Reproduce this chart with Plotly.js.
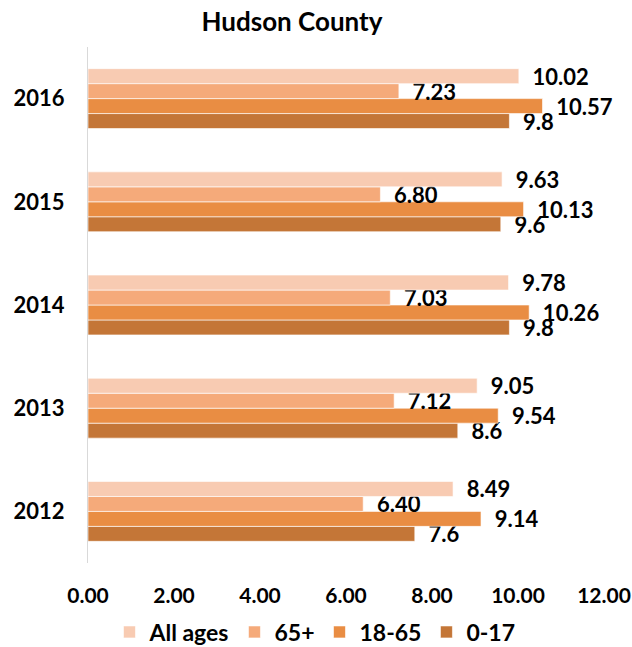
<!DOCTYPE html>
<html>
<head>
<meta charset="utf-8">
<script src="https://cdn.plot.ly/plotly-3.0.1.min.js"></script>
<style>html,body{margin:0;padding:0;background:#fff;}#chart{width:632px;height:647px;}</style>
</head>
<body>
<div id="chart"></div>
<script>
const years = ["2012", "2013", "2014", "2015", "2016"];
const allAges = [8.49, 9.05, 9.78, 9.63, 10.02];
const age65plus = [6.40, 7.12, 7.03, 6.80, 7.23];
const age18to65 = [9.14, 9.54, 10.26, 10.13, 10.57];
const age0to17 = [7.6, 8.6, 9.8, 9.6, 9.8];
const xTicks = [0, 2, 4, 6, 8, 10, 12];

const FONT = "Lato, 'Open Sans', sans-serif";
const labelFont = {family: FONT, size: 22, color: "#000", weight: 700};
const PAD = "\u00a0\u00a0";

function series(name, vals, color, tmpl) {
  return {
    type: "bar", orientation: "h", name: name,
    y: years, x: vals,
    marker: {color: color, line: {color: "rgba(255,255,255,0.6)", width: 1}},
    texttemplate: PAD + tmpl, textposition: "outside", cliponaxis: false,
    constraintext: "none", textfont: labelFont,
    hoverinfo: "x+name"
  };
}

const data = [
  series("0-17", age0to17, "#C47637", "%{x:.1f}"),
  series("18-65", age18to65, "#E98D43", "%{x:.2f}"),
  series("65+", age65plus, "#F5AA7A", "%{x:.2f}"),
  series("All ages", allAges, "#F8CBB2", "%{x:.2f}")
];

const layout = {
  width: 632, height: 647,
  margin: {l: 88, r: 28, t: 47, b: 84, autoexpand: false},
  paper_bgcolor: "#fff", plot_bgcolor: "#fff",
  font: {family: FONT, color: "#000"},
  title: {text: "Hudson County", x: 292/632, xanchor: "center", xref: "container",
          y: 1 - 22/647, yanchor: "middle", yref: "container",
          font: {family: FONT, size: 26, weight: 700, color: "#000"}},
  barmode: "group", bargap: 0.42, bargroupgap: 0,
  xaxis: {range: [0, 12], tickvals: xTicks, tickformat: ".2f",
          showgrid: false, zeroline: false, showline: false,
          ticks: "outside", ticklen: 14, tickcolor: "rgba(0,0,0,0)",
          ticklabeloverflow: "allow",
          tickfont: {family: FONT, size: 21, weight: 700, color: "#000"}},
  yaxis: {type: "category", categoryorder: "array", categoryarray: years,
          showgrid: false, zeroline: false, showline: true, linecolor: "#D9D9D9", linewidth: 1,
          ticks: "", ticklabelstandoff: 18,
          tickfont: {family: FONT, size: 22, weight: 700, color: "#000"}},
  showlegend: true,
  legend: {orientation: "h", traceorder: "reversed", x: 0.5 - 38/632, xanchor: "center",
           y: -(632 - 563) / 516, yanchor: "middle",
           font: {family: FONT, size: 23, weight: 700, color: "#000"},
           itemwidth: 30}
};

Plotly.newPlot("chart", data, layout, {displayModeBar: false, staticPlot: true});
</script>
</body>
</html>
